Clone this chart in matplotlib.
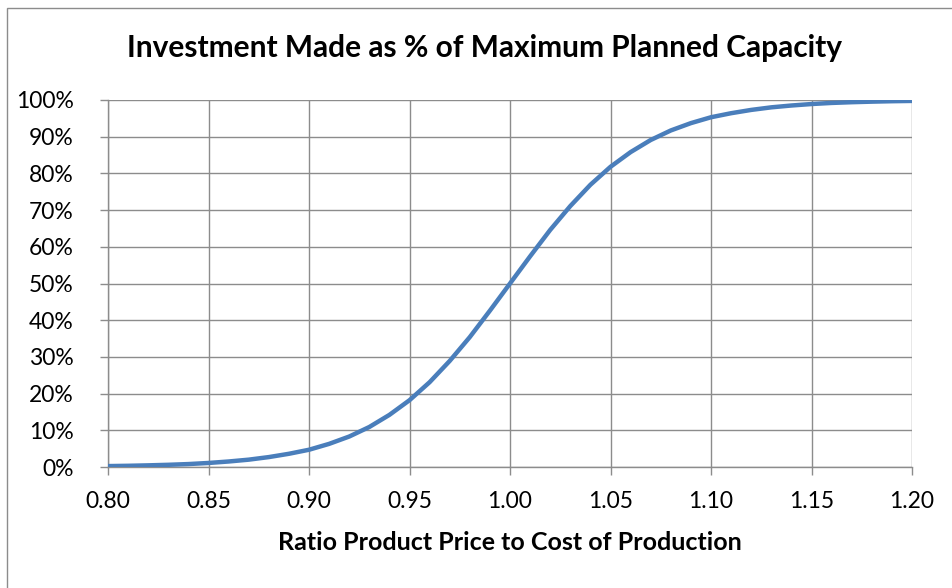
import matplotlib
matplotlib.use("Agg")
import matplotlib.pyplot as plt
from matplotlib.patches import Rectangle
from matplotlib.ticker import FuncFormatter

ratio = [0.80, 0.81, 0.82, 0.83, 0.84, 0.85, 0.86, 0.87, 0.88, 0.89,
         0.90, 0.91, 0.92, 0.93, 0.94, 0.95, 0.96, 0.97, 0.98, 0.99,
         1.00, 1.01, 1.02, 1.03, 1.04, 1.05, 1.06, 1.07, 1.08, 1.09,
         1.10, 1.11, 1.12, 1.13, 1.14, 1.15, 1.16, 1.17, 1.18, 1.19, 1.20]
investment_pct = [0.25, 0.33, 0.45, 0.6, 0.8, 1.1, 1.5, 2.0, 2.7, 3.6,
                  4.7, 6.3, 8.3, 10.9, 14.2, 18.2, 23.1, 28.9, 35.4, 42.6,
                  50.0, 57.4, 64.6, 71.1, 76.9, 81.8, 85.8, 89.1, 91.7, 93.7,
                  95.3, 96.4, 97.3, 98.0, 98.5, 98.9, 99.2, 99.4, 99.55, 99.67, 99.75]
x_ticks = [0.80, 0.85, 0.90, 0.95, 1.00, 1.05, 1.10, 1.15, 1.20]
y_ticks = [0, 10, 20, 30, 40, 50, 60, 70, 80, 90, 100]

title = "Investment Made as % of Maximum Planned Capacity"
xlabel = "Ratio Product Price to Cost of Production"

plt.rcParams['font.family'] = ['Lato', 'DejaVu Sans']

fig = plt.figure(figsize=(9.52, 5.88), dpi=100)
W, H = 952, 588
# outer chart frame
fig.patches.append(Rectangle((7 / W, -0.1), 1.2, (588 - 8) / H + 0.1,
                             transform=fig.transFigure, fill=False,
                             edgecolor='#8c8c8c', linewidth=1.0))

ax = fig.add_axes([108 / W, (H - 467) / H, (912 - 108) / W, (467 - 100) / H])
ax.plot(ratio, investment_pct, color='#4A7EBB', linewidth=3.2,
        solid_capstyle='butt', solid_joinstyle='round', zorder=3)

ax.set_xlim(0.80, 1.20)
ax.set_ylim(0, 100)
ax.set_xticks(x_ticks)
ax.set_yticks(y_ticks)
ax.xaxis.set_major_formatter(FuncFormatter(lambda v, p: f"{v:.2f}"))
ax.yaxis.set_major_formatter(FuncFormatter(lambda v, p: f"{v:.0f}%"))
ax.grid(True, color='#8c8c8c', linewidth=1.0)
ax.set_axisbelow(True)
for s in ['top', 'right']:
    ax.spines[s].set_visible(False)
for s in ['left', 'bottom']:
    ax.spines[s].set_color('#8c8c8c')
    ax.spines[s].set_linewidth(1.0)
ax.tick_params(axis='both', direction='out', length=5.5, width=1.0, color='#8c8c8c',
               labelsize=16.5, labelcolor='black')
ax.tick_params(axis='x', pad=12)
ax.tick_params(axis='y', pad=19)

fig.text(485 / W, 1 - 48 / H, title, ha='center', va='center',
         fontsize=21.5, fontweight='bold')
fig.text(510 / W, 1 - 543 / H, xlabel, ha='center', va='center',
         fontsize=18, fontweight='bold')

fig.savefig("out.png", dpi=100)
